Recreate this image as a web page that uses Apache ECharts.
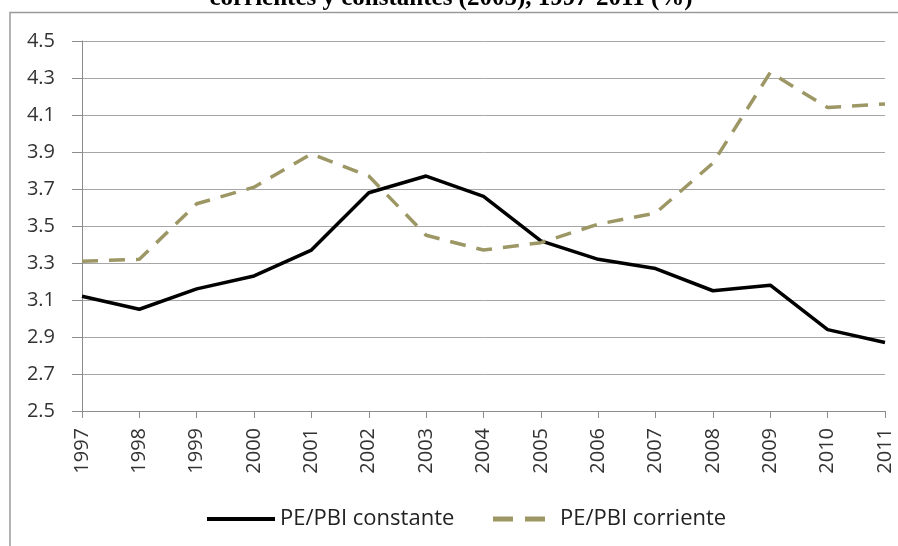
<!DOCTYPE html>
<html><head><meta charset="utf-8">
<script src="https://cdn.jsdelivr.net/npm/echarts@6/dist/echarts.min.js"></script>
<style>html,body{margin:0;padding:0;background:#fff}#c{width:898px;height:546px}</style>
</head><body><div id="c"></div>
<script>
var years = ['1997','1998','1999','2000','2001','2002','2003','2004','2005','2006','2007','2008','2009','2010','2011'];
var constante = [3.12,3.05,3.16,3.23,3.37,3.68,3.77,3.66,3.42,3.32,3.27,3.15,3.18,2.94,2.87];
var corriente = [3.31,3.32,3.62,3.71,3.89,3.77,3.45,3.37,3.41,3.51,3.57,3.84,4.33,4.14,4.16];
var yTicks = ['2.5','2.7','2.9','3.1','3.3','3.5','3.7','3.9','4.1','4.3','4.5'];
var titleText = 'corrientes y constantes (2005), 1997-2011 (%)';
var seriesNames = ['PE/PBI constante','PE/PBI corriente'];

var font = "'Open Sans',sans-serif";
var olive = '#9d9765';
var chart = echarts.init(document.getElementById('c'));
chart.setOption({
  animation:false,
  backgroundColor:'#fff',
  graphic:[
    {type:'text',x:451,y:-1,silent:true,style:{text:titleText,align:'center',verticalAlign:'middle',
      font:"bold 25px 'Liberation Serif','Times New Roman',serif",fill:'#000'}},
    {type:'polyline',shape:{points:[[10,546],[10,12.5],[898,12.5]]},style:{stroke:'#9a9a9a',lineWidth:1.5,fill:null},silent:true}
  ],
  grid:{left:82,right:13,top:41,bottom:135},
  legend:[
    {left:202,top:503,itemWidth:68,itemHeight:4,selectedMode:false,
     textStyle:{fontFamily:font,fontSize:22,color:'#222'},
     data:[{name:seriesNames[0],icon:'rect'}]},
    {left:488,top:503,itemWidth:52,itemHeight:5,selectedMode:false,
     textStyle:{fontFamily:font,fontSize:22,color:'#222',padding:[0,0,0,10]},
     data:[{name:seriesNames[1],icon:'path://M0,0H20V5H0Z M32,0H52V5H32Z'}]}
  ],
  xAxis:{type:'category',data:years,boundaryGap:false,
    axisLine:{lineStyle:{color:'#8c8c8c',width:1}},
    axisTick:{show:true,length:7,lineStyle:{color:'#8c8c8c'}},
    axisLabel:{rotate:90,fontFamily:font,fontSize:20,color:'#333',margin:17}},
  yAxis:{type:'value',min:2.5,max:4.5,interval:0.2,
    axisLine:{show:true,lineStyle:{color:'#8c8c8c'}},
    axisTick:{show:true,length:10,lineStyle:{color:'#8c8c8c'}},
    splitLine:{lineStyle:{color:'#a6a6a6',width:1}},
    axisLabel:{fontFamily:font,fontSize:20,color:'#333',margin:27,
      formatter:function(v){var s=v.toFixed(1);return yTicks.indexOf(s)>=0?s:'';}}},
  series:[
    {name:seriesNames[0],type:'line',data:constante,symbol:'none',lineStyle:{color:'#000',width:3.5},itemStyle:{color:'#000'}},
    {name:seriesNames[1],type:'line',data:corriente,symbol:'none',lineStyle:{color:olive,width:3.5,type:[16,11]},itemStyle:{color:olive}}
  ]
});
</script></body></html>
